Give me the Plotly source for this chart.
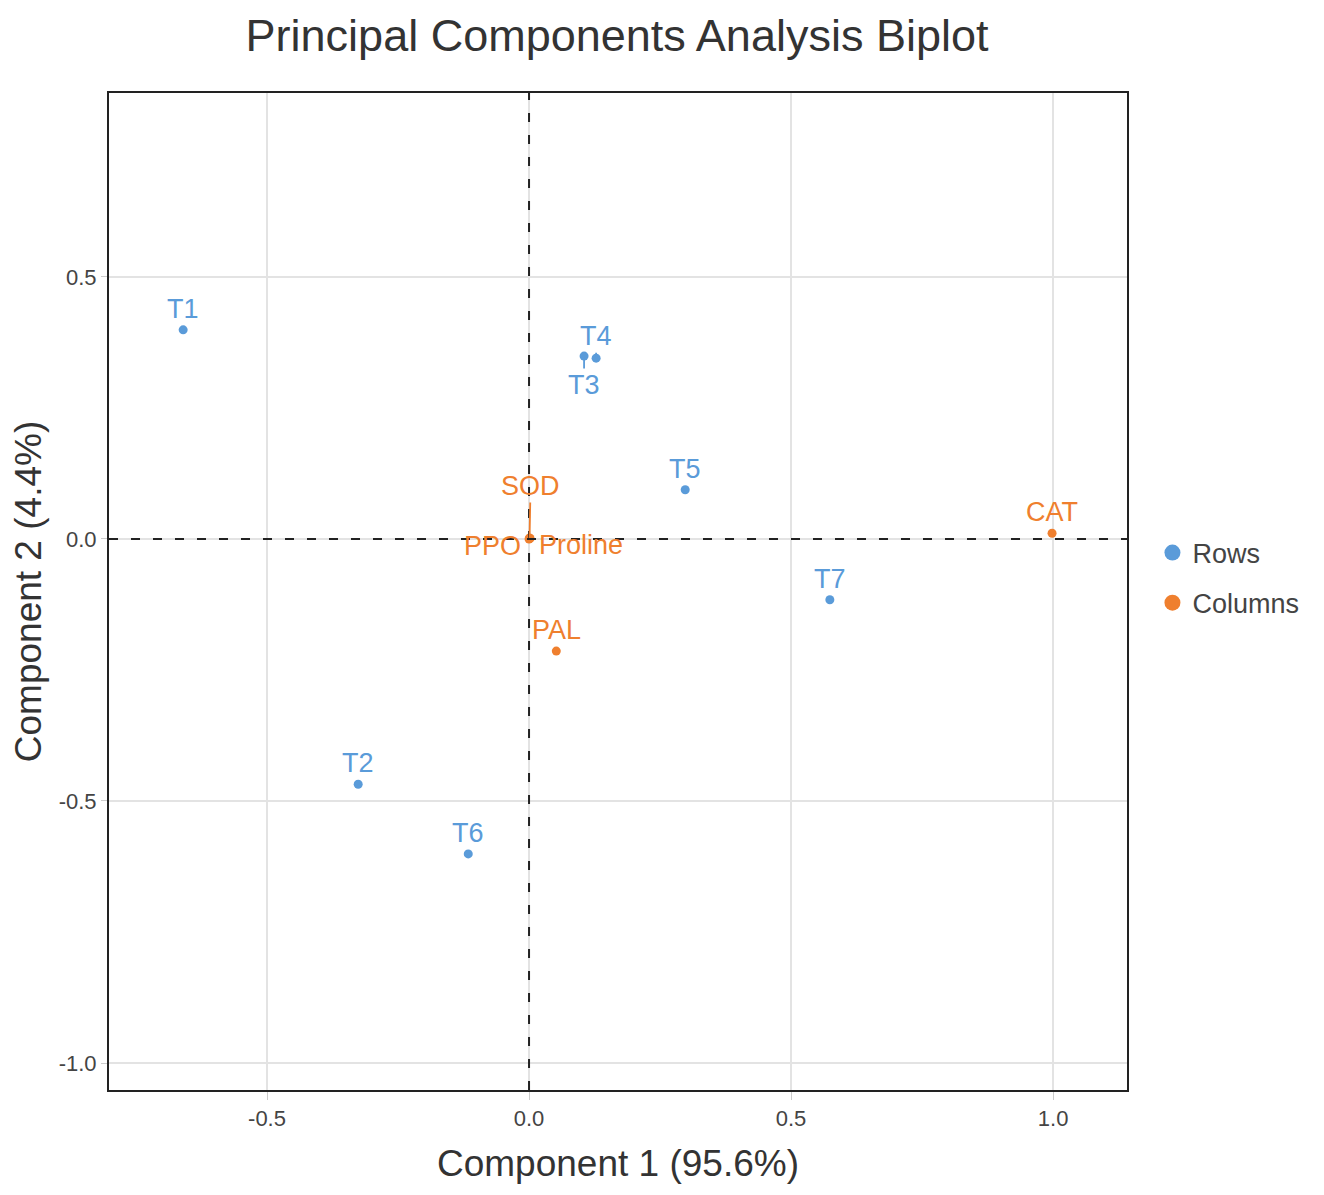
import plotly.graph_objects as go

# row (treatment) scores
row_names = ["T1", "T2", "T3", "T4", "T5", "T6", "T7"]
row_x = [-0.660, -0.326, 0.105, 0.128, 0.298, -0.116, 0.574]
row_y = [0.399, -0.468, 0.349, 0.345, 0.094, -0.601, -0.116]

# column (variable) scores
col_names = ["CAT", "PAL", "SOD", "PPO", "Proline"]
col_x = [0.998, 0.052, 0.001, 0.000, 0.002]
col_y = [0.011, -0.214, 0.002, 0.000, 0.001]

x_ticks = [-0.5, 0.0, 0.5, 1.0]
y_ticks = [-1.0, -0.5, 0.0, 0.5]

BLUE = "#5a9bd9"
ORANGE = "#ef7f2e"
FONT = "Arial, Liberation Sans, sans-serif"

# label offsets in pixels (dx, dy, draw leader line)
label_pos = {
    "T3": (0, 29, True), "T4": (0, -22, True),
    "SOD": (1, -52, True), "PPO": (-37, 7, False), "Proline": (51, 7, False),
}

fig = go.Figure()
fig.add_trace(go.Scatter(x=row_x, y=row_y, mode="markers", name="Rows",
                         marker=dict(color=BLUE, size=9), showlegend=False))
fig.add_trace(go.Scatter(x=col_x, y=col_y, mode="markers", name="Columns",
                         marker=dict(color=ORANGE, size=9), showlegend=False))
# legend entries with bigger dots
fig.add_trace(go.Scatter(x=[None], y=[None], mode="markers", name="Rows",
                         legendgroup="rows", marker=dict(color=BLUE, size=16)))
fig.add_trace(go.Scatter(x=[None], y=[None], mode="markers", name="Columns",
                         legendgroup="cols", marker=dict(color=ORANGE, size=16)))

annotations = []
for names, xs, ys, color in [(row_names, row_x, row_y, BLUE),
                             (col_names, col_x, col_y, ORANGE)]:
    for n, x, y in zip(names, xs, ys):
        dx, dy, line = label_pos.get(n, (0, -21, False))
        annotations.append(dict(
            x=x, y=y, text=n, xref="x", yref="y",
            showarrow=True, ax=dx, ay=dy, arrowhead=0, arrowwidth=1.8,
            arrowcolor=color if line else "rgba(0,0,0,0)",
            font=dict(size=27, color=color, family=FONT),
        ))

fig.update_layout(
    width=1324, height=1195,
    paper_bgcolor="white", plot_bgcolor="white",
    margin=dict(l=101, r=205, t=85, b=113),
    font=dict(family=FONT, color="#444"),
    title=dict(text="Principal Components Analysis Biplot", x=0.46, xanchor="center",
               y=0.977, yanchor="middle", font=dict(size=45, color="#333", family=FONT)),
    annotations=annotations,
    legend=dict(x=1.025, y=0.5135, xanchor="left", yanchor="middle",
                font=dict(size=27, color="#444"), tracegroupgap=12,
                itemwidth=30),
    shapes=[
        dict(type="line", xref="x", yref="paper", x0=0, x1=0, y0=0, y1=1,
             line=dict(color="#222", width=2, dash="9px,13px"), layer="above"),
        dict(type="line", xref="paper", yref="y", x0=0, x1=1, y0=0, y1=0,
             line=dict(color="#222", width=2, dash="9px,13px"), layer="above"),
    ],
)
fig.update_xaxes(
    range=[-0.8015, 1.141], tickvals=x_ticks, ticktext=[f"{v:.1f}" for v in x_ticks],
    showgrid=True, gridcolor="#e3e3e3", gridwidth=1.5, zeroline=False,
    showline=True, linecolor="#222", linewidth=2, mirror=True,
    ticks="outside", ticklen=8, tickcolor="#ccc",
    tickfont=dict(size=22, color="#444"),
    title=dict(text="Component 1 (95.6%)", font=dict(size=37, color="#333"), standoff=20),
)
fig.update_yaxes(
    range=[-1.0515, 0.851], tickvals=y_ticks, ticktext=[f"{v:.1f}" for v in y_ticks],
    showgrid=True, gridcolor="#e3e3e3", gridwidth=1.5, zeroline=False,
    showline=True, linecolor="#222", linewidth=2, mirror=True,
    ticks="outside", ticklen=6, tickcolor="#ccc",
    tickfont=dict(size=22, color="#444"),
    title=dict(text="Component 2 (4.4%)", font=dict(size=37, color="#333"), standoff=12),
)

fig.write_html("out.html")
